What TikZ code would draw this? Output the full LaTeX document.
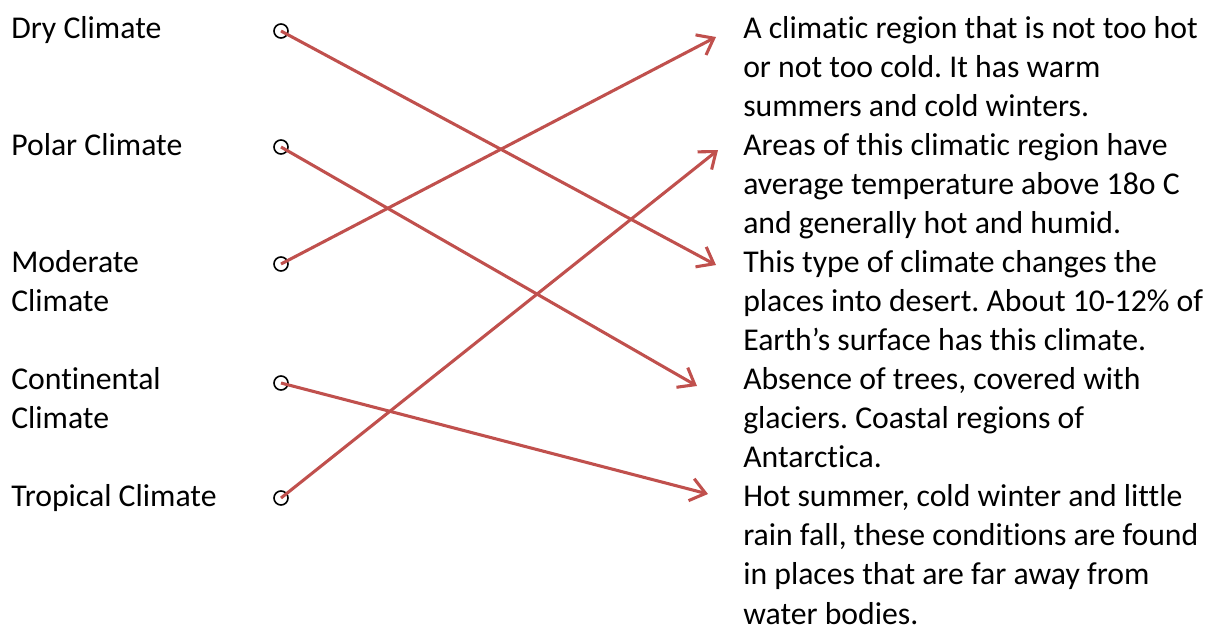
\documentclass[tikz,border=0pt]{standalone}
\usepackage{fontspec}
\setmainfont{Carlito}[Ligatures=NoCommon]
\usetikzlibrary{arrows.meta}
\definecolor{linkred}{HTML}{C0504D}
\frenchspacing
\begin{document}
\begin{tikzpicture}[x=0.75pt,y=-0.75pt,
  txt/.style={anchor=base west,inner sep=0pt,font=\frenchspacing\fontsize{23.8}{29.3}\selectfont},
  desc/.style={txt,text width=478*0.75pt,align=flush left},
  dot/.style={circle,draw=black,line width=1.2pt,minimum size=10.5pt,inner sep=0pt},
  link/.style={draw=linkred,line width=2.3pt,-{Straight Barb[length=11pt,width=17pt,line width=2.3pt]}}]
\useasboundingbox (0,0) rectangle (1222,626);
% left labels
\node[txt] (l1) at (11,38) {Dry Climate};
\node[txt,text width=200*0.75pt,align=flush left] (l2) at (11,155.2) {Polar Climate};
\node[txt,text width=200*0.75pt,align=flush left] (l3) at (11,272.4) {Moderate\\Climate};
\node[txt,text width=200*0.75pt,align=flush left] (l4) at (11,389.6) {Continental\\Climate};
\node[txt] (l5) at (11,506.8) {Tropical Climate};
% circles
\node[dot] (c1) at (281,31) {};
\node[dot] (c2) at (281,147) {};
\node[dot] (c3) at (281,264) {};
\node[dot] (c4) at (281,383) {};
\node[dot] (c5) at (281,498) {};
% right descriptions
\node[desc] (r1) at (743,38) {A climatic region that is not too hot\\or not too cold. It has warm\\summers and cold winters.};
\node[desc] (r2) at (743,155.2) {Areas of this climatic region have\\average temperature above 18o C\\and generally hot and humid.};
\node[desc] (r3) at (743,272.4) {This type of climate changes the\\places into desert. About 10-12\% of\\Earth’s surface has this climate.};
\node[desc] (r4) at (743,389.6) {Absence of trees, covered with\\glaciers. Coastal regions of\\Antarctica.};
\node[desc] (r5) at (743,506.8) {Hot summer, cold winter and little\\rain fall, these conditions are found\\in places that are far away from\\water bodies.};
% arrow targets
\coordinate (t1) at (716,37);
\coordinate (t2) at (718,150);
\coordinate (t3) at (716,265);
\coordinate (t4) at (697,386);
\coordinate (t5) at (708,494);
% connectors
\draw[link] (c1.center) -- (t3);
\draw[link] (c2.center) -- (t4);
\draw[link] (c3.center) -- (t1);
\draw[link] (c4.center) -- (t5);
\draw[link] (c5.center) -- (t2);
\end{tikzpicture}
\end{document}
